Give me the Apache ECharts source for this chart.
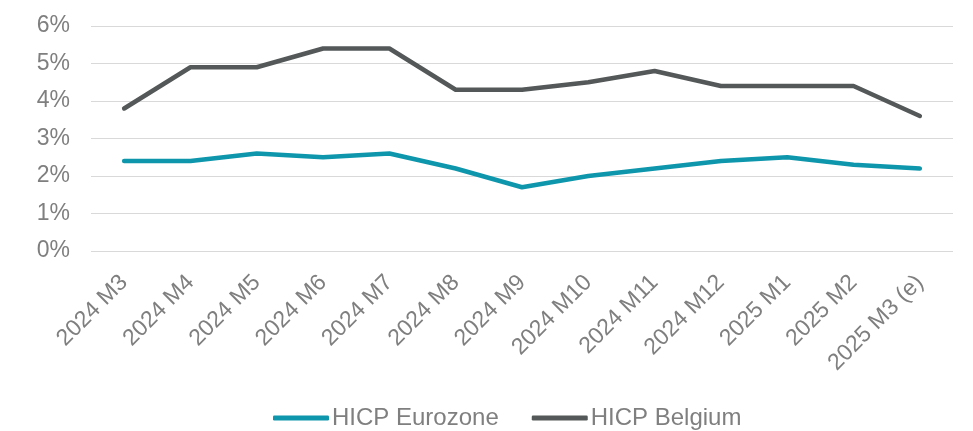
<!DOCTYPE html>
<html>
<head>
<meta charset="utf-8">
<script src="https://cdn.jsdelivr.net/npm/echarts@6/dist/echarts.min.js"></script>
<style>
    html, body { margin: 0; padding: 0; background: #fff; }
    #chart { width: 973px; height: 431px; }
</style>
</head>
<body>
<div id="chart"></div>
<script>
var months = ['2024 M3', '2024 M4', '2024 M5', '2024 M6', '2024 M7', '2024 M8', '2024 M9',
    '2024 M10', '2024 M11', '2024 M12', '2025 M1', '2025 M2', '2025 M3 (e)'];
var hicpEurozone = [2.4, 2.4, 2.6, 2.5, 2.6, 2.2, 1.7, 2.0, 2.2, 2.4, 2.5, 2.3, 2.2];
var hicpBelgium = [3.8, 4.9, 4.9, 5.4, 5.4, 4.3, 4.3, 4.5, 4.8, 4.4, 4.4, 4.4, 3.6];

var myChart = echarts.init(document.getElementById('chart'));

option = {
    animation: false,
    textStyle: {
        fontFamily: 'Liberation Sans, Arial, sans-serif'
    },
    grid: {
        left: 91,
        right: 20,
        top: 26,
        bottom: 180
    },
    legend: {
        top: 401,
        left: 268,
        itemWidth: 56,
        itemHeight: 5,
        itemGap: 33,
        icon: 'roundRect',
        textStyle: {
            color: '#7f7f7f',
            fontSize: 24,
            padding: [0, 0, 0, -2]
        },
        data: ['HICP Eurozone', 'HICP Belgium']
    },
    xAxis: {
        type: 'category',
        data: months,
        boundaryGap: true,
        axisLine: { show: false },
        axisTick: { show: false },
        axisLabel: {
            rotate: 45,
            interval: 0,
            color: '#7f7f7f',
            fontSize: 23,
            margin: 28
        }
    },
    yAxis: {
        type: 'value',
        min: 0,
        max: 6,
        interval: 1,
        axisLabel: {
            color: '#7f7f7f',
            fontSize: 23,
            margin: 21,
            formatter: '{value}%'
        },
        splitLine: {
            lineStyle: { color: '#d9d9d9', width: 1 }
        }
    },
    series: [
        {
            name: 'HICP Eurozone',
            type: 'line',
            data: hicpEurozone,
            symbol: 'none',
            color: '#0e96ac',
            lineStyle: { width: 4.5, cap: 'round', join: 'round' }
        },
        {
            name: 'HICP Belgium',
            type: 'line',
            data: hicpBelgium,
            symbol: 'none',
            color: '#545859',
            lineStyle: { width: 4.5, cap: 'round', join: 'round' }
        }
    ]
};
myChart.setOption(option);
</script>
</body>
</html>
